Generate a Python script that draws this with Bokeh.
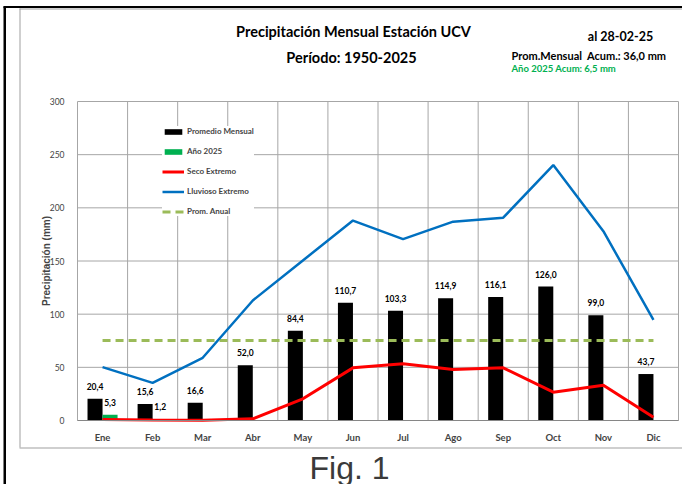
import numpy as np
from bokeh.plotting import figure
from bokeh.models import (Range1d, FixedTicker, Label, Legend, LegendItem,
                          BoxAnnotation, ColumnDataSource)
from bokeh.core.properties import value
from bokeh.transform import dodge
from bokeh.embed import file_html
from bokeh.resources import INLINE

# ---------------- data ----------------
months = ["Ene", "Feb", "Mar", "Abr", "May", "Jun", "Jul", "Ago", "Sep", "Oct", "Nov", "Dic"]
promedio = [20.4, 15.6, 16.6, 52.0, 84.4, 110.7, 103.3, 114.9, 116.1, 126.0, 99.0, 43.7]
anio_2025 = [5.3, 1.2]
seco = [0.9, 0.4, 0.3, 1.6, 20.4, 49.5, 53.3, 48.0, 49.5, 26.6, 33.2, 3.1]
lluvioso = [50.2, 35.4, 59.0, 112.9, 150.5, 188.0, 170.6, 187.0, 190.7, 240.2, 178.0, 94.7]
y_ticks = [0, 50, 100, 150, 200, 250, 300]

FONT = "Lato"
WIDE = "Liberation Sans"

# ---------------- layout (pixels) ----------------
W, H = 682, 484
PX0, PX1 = 77, 678      # plot area left/right
PY0, PY1 = 101, 420     # plot area top/bottom
XA, XB = 0.5, len(months) + 0.5
YA, YB = 0, 300
KX = (PX1 - PX0) / (XB - XA)
KY = (PY1 - PY0) / (YB - YA)

def dx(px):
    return XA + (px - PX0) / KX

def dy(py):
    return YA + (PY1 - py) / KY

p = figure(width=W, height=H, output_backend="svg", toolbar_location=None, title=None,
           x_range=Range1d(dx(0), dx(W)), y_range=Range1d(dy(H), dy(0)),
           min_border=0)
p.min_border_left = p.min_border_right = p.min_border_top = p.min_border_bottom = 0
p.background_fill_color = "white"
p.border_fill_color = "white"
p.outline_line_color = None
p.grid.visible = False

xs = list(range(1, len(months) + 1))
fmt = lambda v: f"{v:.1f}".replace(".", ",")
src = ColumnDataSource(dict(x=xs, prom=promedio, lab=[fmt(v) for v in promedio]))
src25 = ColumnDataSource(dict(x=xs[:len(anio_2025)], v=anio_2025, lab=[fmt(v) for v in anio_2025]))

GRID = "#a6a6a6"
# grid lines limited to the plot area
vx = [XA + i for i in range(len(months) + 1)]
p.segment(x0=vx, x1=vx, y0=[YA] * len(vx), y1=[YB] * len(vx), line_color=GRID, line_width=1)
p.segment(x0=[XA] * len(y_ticks), x1=[XB] * len(y_ticks), y0=y_ticks, y1=y_ticks,
          line_color=GRID, line_width=1)

# bars
r_prom = p.vbar(x=dodge("x", -0.15, range=p.x_range), top="prom", width=0.3, source=src,
                fill_color="black", line_color=None)
r_25 = p.vbar(x=dodge("x", 0.15, range=p.x_range), top="v", width=0.3, source=src25,
              fill_color="#00b050", line_color=None)

# lines
anual = [float(np.mean(promedio))] * len(months)
r_anual = p.line(xs, anual, line_color="#9bbb59", line_width=3, line_dash="8 5")
r_llu = p.line(xs, lluvioso, line_color="#0070c0", line_width=2.5)
r_seco = p.line(xs, seco, line_color="#ff0000", line_width=3)

# data labels
for s, col, off in ((src, "prom", -0.15), (src25, "v", 0.15)):
    p.text(x=dodge("x", off, range=p.x_range), y=col, text="lab", source=s,
           text_font=value(FONT), text_font_style="bold", text_font_size="8.5px",
           text_align="center", text_baseline="bottom", y_offset=-9, text_color="black")

# axes, fixed at the plot-area edges
p.xaxis.fixed_location = YA
p.xaxis.bounds = (XA, XB)
p.xaxis.ticker = FixedTicker(ticks=xs)
p.xaxis.major_label_overrides = {i: m for i, m in zip(xs, months)}
p.xaxis.major_label_text_font = FONT
p.xaxis.major_label_text_font_style = "bold"
p.xaxis.major_label_text_font_size = "9.5px"
p.xaxis.major_label_standoff = 5
p.xaxis.major_tick_line_color = None
p.xaxis.minor_tick_line_color = None
p.xaxis.axis_line_color = "#868686"

p.yaxis.fixed_location = XA
p.yaxis.bounds = (YA, YB)
p.yaxis.ticker = FixedTicker(ticks=y_ticks)
p.yaxis.major_label_text_font = FONT
p.yaxis.major_label_text_font_size = "8.5px"
p.yaxis.major_label_standoff = 7
p.yaxis.major_tick_line_color = None
p.yaxis.minor_tick_line_color = None
p.yaxis.axis_line_color = None
p.yaxis.axis_label = "Precipitación (mm)"
p.yaxis.axis_label_text_font = WIDE
p.yaxis.axis_label_text_font_style = "bold"
p.yaxis.axis_label_text_font_size = "10px"
p.yaxis.axis_label_standoff = -5

# legend
legend = Legend(items=[
    LegendItem(label="Promedio Mensual", renderers=[r_prom]),
    LegendItem(label="Año 2025", renderers=[r_25]),
    LegendItem(label="Seco Extremo", renderers=[r_seco]),
    LegendItem(label="Lluvioso Extremo", renderers=[r_llu]),
    LegendItem(label="Prom. Anual", renderers=[r_anual]),
], location=(162, 268))
legend.label_text_font = FONT
legend.label_text_font_style = "bold"
legend.label_text_font_size = "8px"
legend.glyph_width = 22
legend.glyph_height = 7
legend.label_height = 7
legend.spacing = 10
legend.padding = 5
legend.margin = 0
legend.label_standoff = 3
legend.border_line_color = None
legend.background_fill_color = "white"
legend.background_fill_alpha = 1
p.add_layout(legend)

# titles and notes
def add_label(text, px, py, size, align="center", color="black", style="bold", font=FONT):
    p.add_layout(Label(x=dx(px), y=dy(py), text=text, text_font=font, text_font_size=size,
                       text_font_style=style, text_align=align, text_baseline="middle",
                       text_color=color))

add_label("Precipitación Mensual Estación UCV", 353, 31, "14.5px")
add_label("Período: 1950-2025", 351, 57, "14.5px")
add_label("al 28-02-25", 620, 36, "12.5px")
add_label("Prom.Mensual\u00a0\u00a0Acum.: 36,0 mm", 511, 55, "11px", align="left")
add_label("Año 2025 Acum: 6,5 mm", 511, 68, "9.5px", align="left", color="#00b050")
add_label("Fig. 1", 349, 467, "32px", color="#3a3a3a", style="normal", font=WIDE)

# frame lines of the original document
def rect(x0, y0, x1, y1, color):
    p.add_layout(BoxAnnotation(left=dx(x0), right=dx(x1), top=dy(y0), bottom=dy(y1),
                               fill_color=color, fill_alpha=1, line_color=None))

rect(19, 8, 20, 447, "#a0a0a0")
rect(19, 8, W, 9, "#a0a0a0")
rect(19, 447, W, 448, "#a0a0a0")
rect(3, 6, 5.5, H, "black")
rect(3, 5.5, W, 7.5, "black")

open("out.html", "w").write(file_html(p, INLINE))
